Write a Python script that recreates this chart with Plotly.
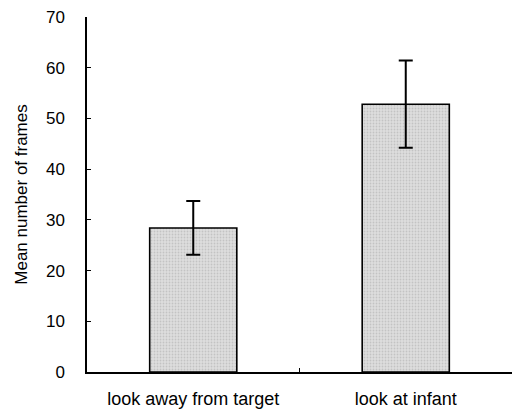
import plotly.graph_objects as go

categories = ["look away from target", "look at infant"]
means = [28.4, 52.8]
errors = [5.3, 8.6]
y_ticks = [0, 10, 20, 30, 40, 50, 60, 70]

fig = go.Figure()
fig.add_trace(go.Bar(
    x=categories,
    y=means,
    width=0.41,
    marker=dict(
        color="#d6d6d6",
        line=dict(color="black", width=1.6),
        pattern=dict(shape=".", fgcolor="#a8a8a8", bgcolor="#dedede", size=3, solidity=0.3),
    ),
    error_y=dict(type="data", array=errors, visible=True, color="black", thickness=2, width=7),
))

fig.update_layout(
    width=517, height=410,
    margin=dict(l=87, r=5, t=17, b=38),
    paper_bgcolor="white", plot_bgcolor="white",
    showlegend=False,
    font=dict(family="Liberation Sans, Arial, sans-serif", size=17, color="black"),
)
fig.update_xaxes(
    range=[-0.5, 1.5], automargin=False,
    showline=True, linecolor="black", linewidth=1.5,
    ticks="inside", tickson="boundaries", ticklen=4, tickcolor="black",
    showgrid=False, tickfont=dict(size=18), ticklabelstandoff=10,
)
fig.update_yaxes(
    range=[0, 70], tickvals=y_ticks, automargin=False,
    showline=True, linecolor="black", linewidth=1.5,
    ticks="inside", ticklen=4, tickcolor="black", tickwidth=1.2,
    showgrid=False, zeroline=False,
    title=dict(text="Mean number of frames", font=dict(size=17), standoff=14),
    tickfont=dict(size=17), ticklabelstandoff=17,
)
fig.write_html(
    "out.html",
    config={"displayModeBar": False},
    post_script="document.body.style.margin='0';document.body.style.overflow='hidden';",
)
